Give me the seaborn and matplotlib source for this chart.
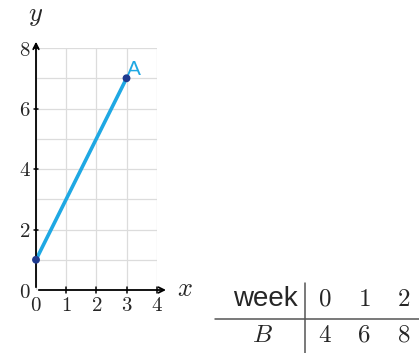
import numpy as np
import pandas as pd
import seaborn as sns
import matplotlib.pyplot as plt
from matplotlib.lines import Line2D

# line A
a_x = [0, 3]
a_y = [1, 7]
# table B
weeks = [0, 1, 2]
b_vals = [4, 6, 8]

sns.set_style("white")
plt.rcParams['font.family'] = ['Liberation Sans', 'DejaVu Sans']
plt.rcParams['mathtext.fontset'] = 'cm'

W, H = 419, 353
fig = plt.figure(figsize=(W / 100, H / 100), dpi=100)
ax = fig.add_axes([36 / W, 63 / H, 120.7 / W, 242 / H])

df = pd.DataFrame({"x": a_x, "y": a_y})
sns.lineplot(data=df, x="x", y="y", ax=ax, color="#1fa8e3", linewidth=2.6, zorder=3)
sns.scatterplot(data=df, x="x", y="y", ax=ax, color="#1f3a8f", s=32, edgecolor="none", zorder=4, clip_on=False)
ax.text(a_x[1] + 0.02, a_y[1] + 0.3, "A", color="#1fa8e3", fontsize=15, ha="left", va="center")

ax.set_xlim(0, 4)
ax.set_ylim(0, 8)
ax.set_xticks(range(0, 5))
ax.set_yticks(range(0, 9))
ax.grid(True, color="#dcdcdc", linewidth=0.9)
for s in ax.spines.values():
    s.set_visible(False)
ax.set_xlabel("")
ax.set_ylabel("")
ax.set_xticklabels([f"${v}$" for v in range(0, 5)], fontsize=15)
ax.set_yticklabels([f"${v}$" if v % 2 == 0 else "" for v in range(0, 9)], fontsize=15)
ax.tick_params(axis="both", length=0, pad=4)

# axis arrows
ax.annotate("", xy=(4.4, 0), xytext=(0, 0), xycoords="data",
            arrowprops=dict(arrowstyle="->", color="black", lw=1.3), annotation_clip=False)
ax.annotate("", xy=(0, 8.3), xytext=(0, 0), xycoords="data",
            arrowprops=dict(arrowstyle="->", color="black", lw=1.3), annotation_clip=False)
for t in range(1, 5):
    ax.plot([t, t], [-0.1, 0.1], color="black", lw=1.1, clip_on=False)
for t in range(2, 9, 2):
    ax.plot([-0.07, 0.07], [t, t], color="black", lw=1.1, clip_on=False)
ax.text(4.95, 0.02, "$x$", fontsize=19, ha="center", va="center")
ax.text(0, 9.05, "$y$", fontsize=19, ha="center", va="center")

# table
fig.text(298 / W, 1 - 299 / H, "week", fontsize=20, ha="right", va="center")
fig.text(262 / W, 1 - 335 / H, "$B$", fontsize=18, ha="center", va="center")
col_x = [325, 364, 404]
for cx, w, b in zip(col_x, weeks, b_vals):
    fig.text(cx / W, 1 - 299 / H, f"${w}$", fontsize=18, ha="center", va="center")
    fig.text(cx / W, 1 - 335 / H, f"${b}$", fontsize=18, ha="center", va="center")
fig.add_artist(Line2D([305 / W, 305 / W], [1 - 283 / H, 1 - 353 / H], color="#555555", lw=1.1))
fig.add_artist(Line2D([215 / W, 1.0], [1 - 319 / H, 1 - 319 / H], color="#555555", lw=1.1))

fig.savefig("out.png", dpi=100)
